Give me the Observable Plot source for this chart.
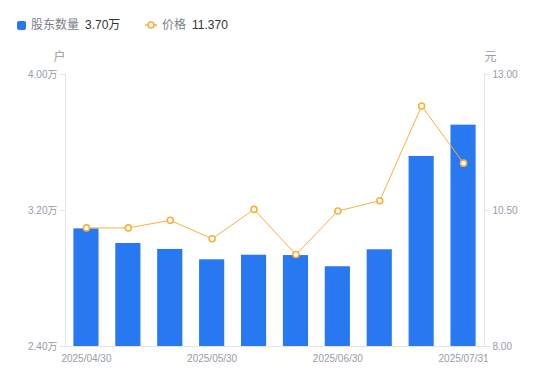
<!DOCTYPE html>
<html><head><meta charset="utf-8">
<script src="https://cdn.jsdelivr.net/npm/d3@7"></script>
<script src="https://cdn.jsdelivr.net/npm/@observablehq/plot@0.6"></script>
<style>
body{margin:0;background:#fff;font-family:"Liberation Sans",Arial,"Noto Sans CJK SC",sans-serif;}
#wrap{position:relative;width:550px;height:381px;}
#legend{position:absolute;left:0;top:0;font-size:12px;line-height:14px;}
.li{position:absolute;top:18px;white-space:nowrap;}
.lab{color:#7d8089;}
.val{color:#333;margin-left:6px;}
</style></head>
<body><div id="wrap"><div id="chart"></div><div id="legend"></div></div>
<script>
const dates = ["2025/04/30","2025/05/10","2025/05/20","2025/05/30","2025/06/10","2025/06/20","2025/06/30","2025/07/10","2025/07/20","2025/07/31"];
const holders = [3.092, 3.006, 2.971, 2.910, 2.937, 2.935, 2.869, 2.969, 3.518, 3.702]; // 万户
const prices = [10.18, 10.18, 10.32, 9.98, 10.52, 9.69, 10.49, 10.68, 12.42, 11.37];
const xTicks = ["2025/04/30","2025/05/30","2025/06/30","2025/07/31"];
const leftTicks = [2.4, 3.2, 4.0];
const rightTicks = [8.0, 10.5, 13.0];

const L0 = 2.4, L1 = 4.0, R0 = 8, R1 = 13;
const toLeft = p => L0 + (p - R0) / (R1 - R0) * (L1 - L0);
const toRight = v => R0 + (v - L0) / (L1 - L0) * (R1 - R0);

const data = dates.map((d, i) => ({date: d, holders: holders[i], price: prices[i], py: toLeft(prices[i])}));

const blue = "#2878f2", orange = "#f9b03a", grid = "#e3e4e8", tickText = "#9a9ba6";

const chart = Plot.plot({
  width: 550, height: 381,
  marginLeft: 65, marginRight: 66, marginTop: 74, marginBottom: 35,
  style: {fontFamily: '"Liberation Sans", Arial, "Noto Sans CJK SC", sans-serif', fontSize: "10px", background: "#fff"},
  x: {type: "band", domain: dates, paddingInner: 0.4, paddingOuter: 0.2, round: false, axis: null},
  y: {domain: [L0, L1], axis: null},
  marks: [
    Plot.frame({anchor: "left", stroke: grid}),
    Plot.frame({anchor: "right", stroke: grid}),
    Plot.frame({anchor: "bottom", stroke: grid}),
    Plot.barY(data, {x: "date", y1: L0, y2: "holders", fill: blue}),
    Plot.lineY(data, {x: "date", y: "py", stroke: orange, strokeWidth: 1}),
    Plot.dot(data, {x: "date", y: "py", r: 3, stroke: orange, strokeWidth: 1.6, fill: "#fff"}),
    Plot.axisY({anchor: "left", ticks: leftTicks, tickSize: 5, tickPadding: 3, stroke: grid, fill: tickText, tickFormat: d => d.toFixed(2) + "万", label: null}),
    Plot.axisY({anchor: "right", ticks: rightTicks.map(toLeft), tickSize: 5, tickPadding: 3, stroke: grid, fill: tickText, tickFormat: d => toRight(d).toFixed(2), label: null}),
    Plot.axisX({anchor: "bottom", ticks: xTicks, tickSize: 0, tickPadding: 8, fill: tickText, label: null}),
    Plot.text(["户"], {frameAnchor: "top-left", dx: -6, dy: -17, textAnchor: "middle", lineAnchor: "middle", fill: tickText, fontSize: 12}),
    Plot.text(["元"], {frameAnchor: "top-right", dx: 6, dy: -17, textAnchor: "middle", lineAnchor: "middle", fill: tickText, fontSize: 12})
  ]
});
document.getElementById("chart").appendChild(chart);

const lg = document.getElementById("legend");
lg.innerHTML =
  '<div class="li" style="left:17px"><span style="display:inline-block;width:9px;height:9px;background:' + blue + ';border-radius:2px;margin-right:5px;vertical-align:-1px"></span><span class="lab">股东数量</span><span class="val">' + holders[holders.length-1].toFixed(2) + '万</span></div>' +
  '<div class="li" style="left:145px"><svg width="12" height="10" style="margin-right:5px;vertical-align:-1px"><line x1="0" y1="5" x2="12" y2="5" stroke="' + orange + '" stroke-width="1.5"/><circle cx="6" cy="5" r="3" fill="#fff" stroke="' + orange + '" stroke-width="1.6"/></svg><span class="lab">价格</span><span class="val">' + "11.370" + '</span></div>';
</script></body></html>
